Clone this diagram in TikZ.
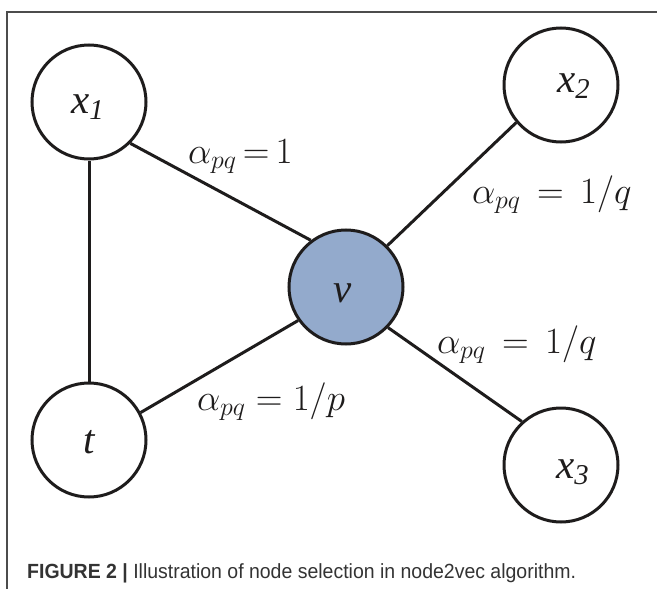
\RequirePackage{fix-cm}
\documentclass[tikz,border=0pt]{standalone}
\usepackage{fontspec}
\newfontfamily\tms{Liberation Serif}
\newfontfamily\capfont[FakeStretch=0.95]{Liberation Sans}
\definecolor{vblue}{RGB}{147,170,204}
\definecolor{ink}{RGB}{30,28,28}
\begin{document}
\begin{tikzpicture}[x=1pt,y=-1pt,
  vertex/.style={circle,draw=ink,line width=3pt,minimum size=114pt,inner sep=0pt},
  vtext/.style={anchor=base west,inner sep=0pt,text=ink,font=\tms\itshape\fontsize{41}{45}\selectfont},
  edge/.style={line width=3pt,draw=ink},
  lab/.style={anchor=base west,inner sep=0pt,text=ink,font=\fontsize{37}{42}\selectfont},
  framel/.style={line width=1.3pt,draw=black!70},
  captext/.style={anchor=base west,inner sep=0pt,text=black!80,font=\capfont\fontsize{20.5}{24}\selectfont}]
\useasboundingbox (0,0) rectangle (657,589);
\coordinate (fa) at (7,589);
\coordinate (fb) at (7,12);
\coordinate (fc) at (657,12);
\draw[framel] (fa) -- (fb) -- (fc);
% vertices
\node[vertex] (x1) at (89,102) {};
\node[vertex] (x2) at (561,85) {};
\node[vertex] (x3) at (561,465) {};
\node[vertex] (t) at (89,440) {};
\node[vertex,fill=vblue] (v) at (346,287) {};
% vertex texts
\node[vtext] (x1t) at (71,113) {x\textsubscript{1}};
\node[vtext] (x2t) at (557,92) {x\textsubscript{2}};
\node[vtext] (x3t) at (556,478) {x\textsubscript{3}};
\node[vtext] (vt) at (333,302) {v};
\node[vtext] (tt) at (83,453) {t};
% edges
\draw[edge] (x1.south) -- (t.north);
\draw[edge] (x1.-45) -- (v.127);
\draw[edge] (x2.220) -- (v.45);
\draw[edge] (v.-44) -- (x3.132);
\draw[edge] (t.28) -- (v.215);
% edge labels
\node[lab] (a1) at (188,163) {$\alpha_{pq}\,{=}\,1$};
\node[lab] (a2) at (472,203) {$\alpha_{pq}\;\,{=}\;\,1/q$};
\node[lab] (a3) at (437,353) {$\alpha_{pq}\;\,{=}\;\,1/q$};
\node[lab] (a4) at (197,410) {$\alpha_{pq}\;{=}\;1/p$};
% caption
\node[captext] (cap) at (27,578) {\textbf{FIGURE 2 |} Illustration of node selection in node2vec algorithm.};
\end{tikzpicture}
\end{document}
